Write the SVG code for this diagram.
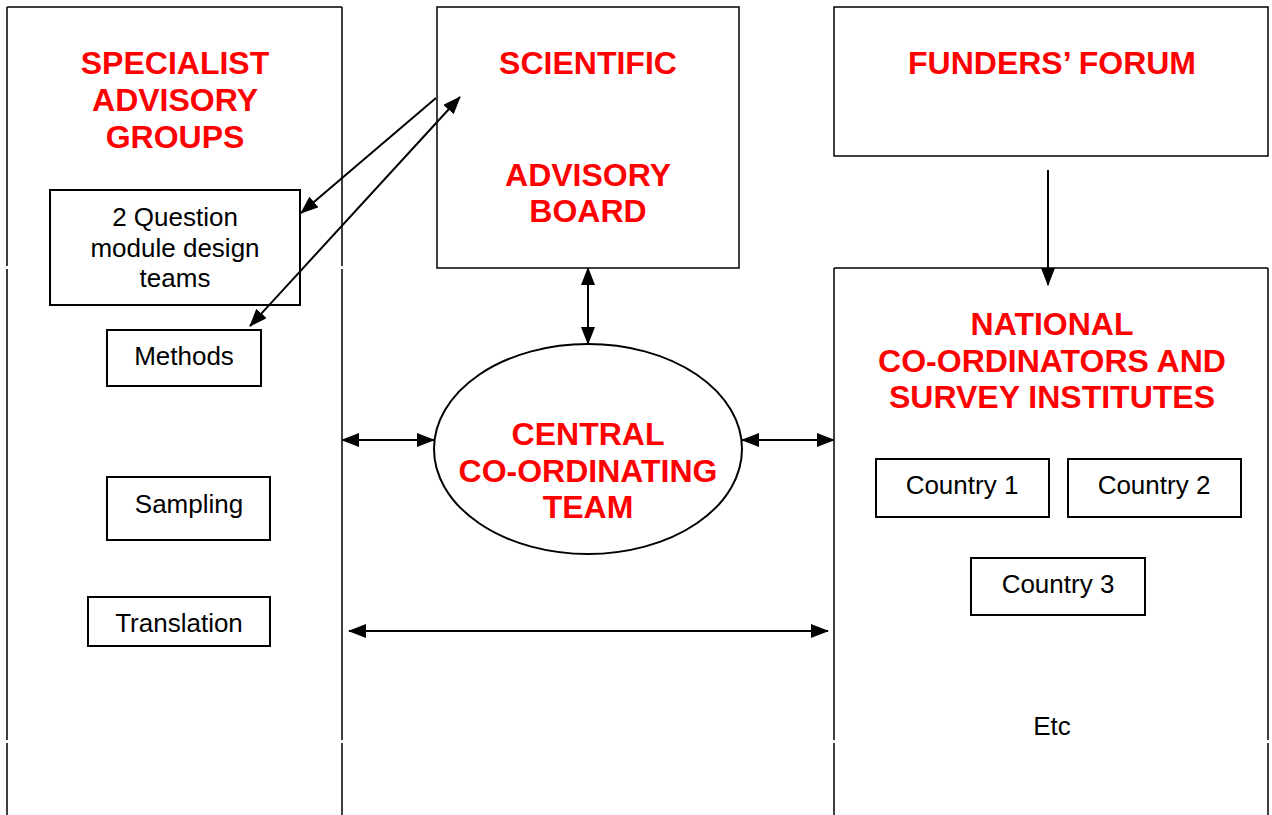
<svg xmlns="http://www.w3.org/2000/svg" width="1272" height="815" viewBox="0 0 1272 815">
<defs>
<marker id="ah" viewBox="0 0 18 14" refX="17" refY="7" markerWidth="18" markerHeight="14" markerUnits="userSpaceOnUse" orient="auto-start-reverse">
<path d="M0,0 L18,7 L0,14 Z" fill="#000"/>
</marker>
<style>
.frame{fill:none;stroke:#000;stroke-width:1.5}
.box{fill:#fff;stroke:#000;stroke-width:2}
.red{font-family:"Liberation Sans",Arial,sans-serif;font-weight:bold;font-size:32px;fill:#ff0000;text-anchor:middle}
.blk{font-family:"Liberation Sans",Arial,sans-serif;font-size:26px;fill:#000;text-anchor:middle}
.con{fill:none;stroke:#000;stroke-width:2}
</style>
</defs>
<rect width="1272" height="815" fill="#fff"/>
<g id="specialist">
<path class="frame" d="M7,7 H342 M7,7 V266 M7,269 V740 M7,743 V815 M342,7 V266 M342,269 V740 M342,743 V815"/>
<text class="red" x="175" y="74">SPECIALIST</text>
<text class="red" x="175" y="111">ADVISORY</text>
<text class="red" x="175" y="148">GROUPS</text>
</g>
<g id="question">
<rect class="box" x="50" y="190" width="250" height="115"/>
<text class="blk" x="175" y="226">2 Question</text>
<text class="blk" x="175" y="257">module design</text>
<text class="blk" x="175" y="287">teams</text>
</g>
<g id="methods">
<rect class="box" x="107" y="330" width="154" height="56"/>
<text class="blk" x="184" y="365">Methods</text>
</g>
<g id="sampling">
<rect class="box" x="107" y="477" width="163" height="63"/>
<text class="blk" x="189" y="513">Sampling</text>
</g>
<g id="translation">
<rect class="box" x="88" y="597" width="182" height="49"/>
<text class="blk" x="179" y="632">Translation</text>
</g>
<g id="scientific">
<rect class="frame" x="437" y="7" width="302" height="261"/>
<text class="red" x="588" y="74">SCIENTIFIC</text>
<text class="red" x="588" y="186">ADVISORY</text>
<text class="red" x="588" y="222">BOARD</text>
</g>
<g id="funders">
<rect class="frame" x="834" y="7" width="434" height="149"/>
<text class="red" x="1052" y="74">FUNDERS’ FORUM</text>
</g>
<g id="national">
<path class="frame" d="M834,268 H1268 M834,268 V740 M834,743 V815 M1268,268 V740 M1268,743 V815"/>
<text class="red" x="1052" y="335">NATIONAL</text>
<text class="red" x="1052" y="372">CO-ORDINATORS AND</text>
<text class="red" x="1052" y="408">SURVEY INSTITUTES</text>
<text class="blk" x="1052" y="735">Etc</text>
</g>
<g id="country1">
<rect class="box" x="876" y="459" width="173" height="58"/>
<text class="blk" x="962" y="494">Country 1</text>
</g>
<g id="country2">
<rect class="box" x="1068" y="459" width="173" height="58"/>
<text class="blk" x="1154" y="494">Country 2</text>
</g>
<g id="country3">
<rect class="box" x="971" y="558" width="174" height="57"/>
<text class="blk" x="1058" y="593">Country 3</text>
</g>
<g id="central">
<ellipse cx="588" cy="449" rx="154" ry="105" fill="#fff" stroke="#000" stroke-width="2"/>
<text class="red" x="588" y="445">CENTRAL</text>
<text class="red" x="588" y="482">CO-ORDINATING</text>
<text class="red" x="588" y="518">TEAM</text>
</g>
<g id="connectors">
<line class="con" x1="436" y1="98" x2="301" y2="213" marker-end="url(#ah)"/>
<line class="con" x1="250" y1="326" x2="460" y2="97" marker-start="url(#ah)" marker-end="url(#ah)"/>
<line class="con" x1="588" y1="268" x2="588" y2="344" marker-start="url(#ah)" marker-end="url(#ah)"/>
<line class="con" x1="342" y1="440" x2="434" y2="440" marker-start="url(#ah)" marker-end="url(#ah)"/>
<line class="con" x1="742" y1="440" x2="834" y2="440" marker-start="url(#ah)" marker-end="url(#ah)"/>
<line class="con" x1="349" y1="631" x2="828" y2="631" marker-start="url(#ah)" marker-end="url(#ah)"/>
<line class="con" x1="1048" y1="170" x2="1048" y2="285" marker-end="url(#ah)"/>
</g>
</svg>
